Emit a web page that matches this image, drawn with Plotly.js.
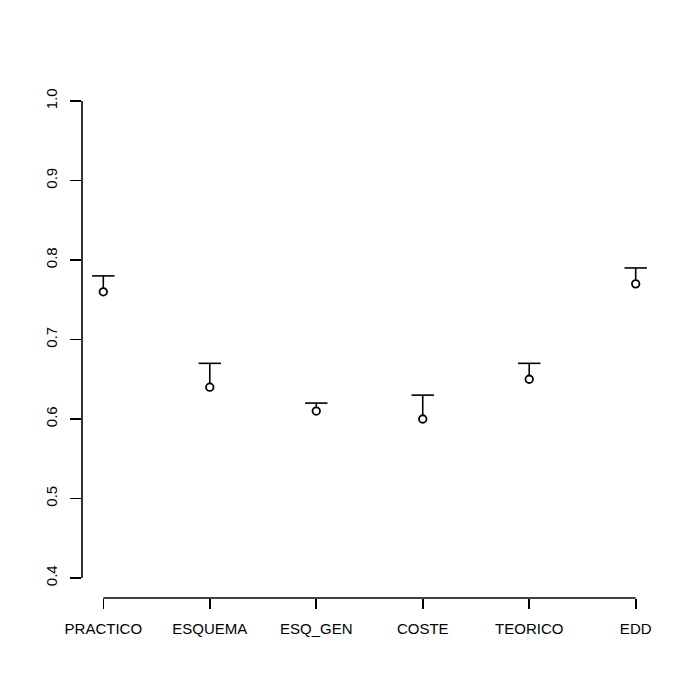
<!DOCTYPE html>
<html>
<head>
<meta charset="utf-8">
<script src="https://cdn.plot.ly/plotly-3.0.1.min.js"></script>
<style>html,body{margin:0;padding:0;background:#fff;}#chart{width:700px;height:700px;}</style>
</head>
<body>
<div id="chart"></div>
<script>
const categories = ["PRACTICO", "ESQUEMA", "ESQ_GEN", "COSTE", "TEORICO", "EDD"];
const means = [0.76, 0.64, 0.61, 0.60, 0.65, 0.77];
const upper = [0.78, 0.67, 0.62, 0.63, 0.67, 0.79];
const yTicks = [0.4, 0.5, 0.6, 0.7, 0.8, 0.9, 1.0];
const yTickText = ["0.4", "0.5", "0.6", "0.7", "0.8", "0.9", "1.0"];

const xs = categories.map((c, i) => i + 1);
const stemDown = upper.map((u, i) => +(u - means[i]).toFixed(4));
const zeros = upper.map(() => 0);

const fontFam = "'Liberation Sans', Arial, Helvetica, sans-serif";

const traces = [
  {
    // whisker caps and stems
    x: xs, y: upper, type: "scatter", mode: "markers",
    marker: { symbol: "line-ew", size: 16, color: "#000", line: { color: "#000", width: 1.6 } },
    error_y: { type: "data", symmetric: false, array: zeros, arrayminus: stemDown, width: 0, thickness: 1.6, color: "#000" },
    hoverinfo: "skip", showlegend: false
  },
  {
    x: xs, y: means, type: "scatter", mode: "markers",
    marker: { symbol: "circle", size: 7.5, color: "#fff", line: { color: "#000", width: 1.8 } },
    showlegend: false
  }
];

const layout = {
  width: 700, height: 700,
  margin: { l: 82, r: 43, t: 82, b: 102, pad: 0 },
  paper_bgcolor: "#fff", plot_bgcolor: "#fff",
  font: { family: fontFam, size: 15, color: "#000" },
  showlegend: false,
  xaxis: {
    range: [0.8, 6.2], tickmode: "array", tickvals: xs, ticktext: categories,
    showgrid: false, zeroline: false, showline: false,
    ticks: "outside", ticklen: 10, tickwidth: 1.6, tickcolor: "#000",
    ticklabelstandoff: 7,
    tickfont: { family: fontFam, size: 15, color: "#000" }
  },
  yaxis: {
    range: [0.3748, 1.0239], tickmode: "array", tickvals: yTicks, ticktext: yTickText,
    showgrid: false, zeroline: false, showline: false,
    ticks: "outside", ticklen: 11, tickwidth: 1.6, tickcolor: "#000",
    tickangle: -90, ticklabelstandoff: 7,
    tickfont: { family: fontFam, size: 15, color: "#000" }
  },
  shapes: [
    { type: "line", xref: "x", yref: "paper", x0: xs[0], x1: xs[xs.length - 1], y0: 0, y1: 0,
      line: { color: "#000", width: 1.6 } },
    { type: "line", xref: "paper", yref: "y", x0: 0, x1: 0, y0: yTicks[0], y1: yTicks[yTicks.length - 1],
      line: { color: "#000", width: 1.6 } }
  ]
};

Plotly.newPlot("chart", traces, layout, { displayModeBar: false, staticPlot: true });
</script>
</body>
</html>
